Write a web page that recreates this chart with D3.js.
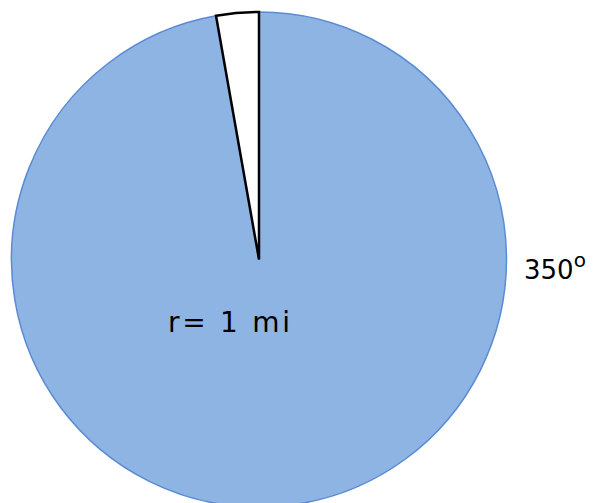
<!DOCTYPE html>
<html>
<head>
<meta charset="utf-8">
<script src="https://cdn.jsdelivr.net/npm/d3@7"></script>
<style>
  body { margin: 0; background: #fff; }
</style>
</head>
<body>
<svg id="chart"></svg>
<script>
// slice values in degrees
const labels = ['blue', 'rest'];
const degrees = [350, 10];
const colors = ['#8EB4E3', '#ffffff'];
const strokes = ['#5B8BD3', '#000000'];

const width = 598;
const height = 503;
const cx = 259;
const cy = 259.5;
const radius = 247.5;

const svg = d3.select('#chart')
  .attr('width', width)
  .attr('height', height);

const g = svg.append('g')
  .attr('transform', 'translate(' + cx + ',' + cy + ')');

// pie in order given, starting at 12 o'clock going clockwise
const pie = d3.pie().sort(null).value(d => d);
const arcs = pie(degrees);

const arc = d3.arc()
  .innerRadius(0)
  .outerRadius(radius);

g.selectAll('path')
  .data(arcs)
  .enter()
  .append('path')
  .attr('d', arc)
  .attr('fill', (d, i) => colors[i])
  .attr('stroke', (d, i) => strokes[i])
  .attr('stroke-width', (d, i) => i === 0 ? 1.5 : 2.5)
  .attr('stroke-linejoin', 'miter');

// radius label
svg.append('text')
  .attr('x', 168)
  .attr('y', 332)
  .attr('font-family', 'DejaVu Sans, Verdana, sans-serif')
  .attr('font-size', '28px')
  .attr('fill', '#000')
  .attr('textLength', 122)
  .attr('lengthAdjust', 'spacing')
  .text('r= 1 mi');

// angle label
const angleText = svg.append('text')
  .attr('x', 524)
  .attr('y', 279)
  .attr('font-family', 'DejaVu Sans, Verdana, sans-serif')
  .attr('font-size', '26px')
  .attr('fill', '#000');

angleText.append('tspan').text(degrees[0]);
angleText.append('tspan')
  .attr('font-size', '20px')
  .attr('dy', -12)
  .text('o');
</script>
</body>
</html>
